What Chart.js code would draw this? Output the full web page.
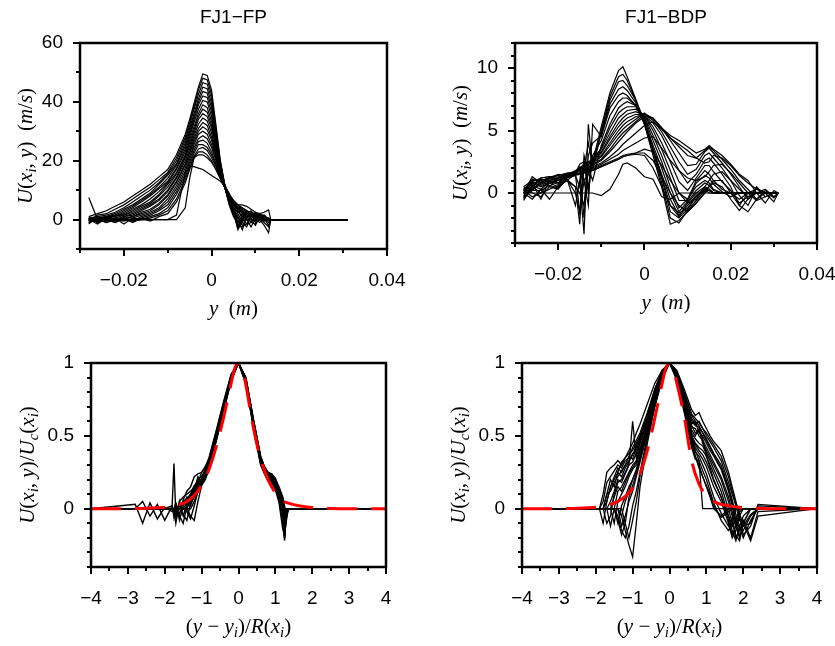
<!DOCTYPE html>
<html>
<head>
<meta charset="utf-8">
<script src="https://cdn.jsdelivr.net/npm/chart.js@4.4.1/dist/chart.umd.min.js"></script>
<style>
  html, body { margin: 0; padding: 0; background: #fff; }
  #wrap { position: relative; width: 835px; height: 646px; }
  canvas { position: absolute; }
</style>
</head>
<body>
<div id="wrap">
  <canvas id="c1" width="417" height="323" style="left:0;top:0"></canvas>
  <canvas id="c2" width="418" height="323" style="left:417px;top:0"></canvas>
  <canvas id="c3" width="417" height="323" style="left:0;top:323px"></canvas>
  <canvas id="c4" width="418" height="323" style="left:417px;top:323px"></canvas>
</div>
<script>
// ---- FJ1-FP, raw profiles U(x_i, y) in m/s ----
const fpY = [-0.028, -0.026, -0.024, -0.022, -0.020, -0.018, -0.016, -0.014, -0.012, -0.010, -0.008,
  -0.006, -0.005, -0.004, -0.003, -0.002, -0.001, 0, 0.001, 0.002, 0.003, 0.004, 0.005, 0.006,
  0.007, 0.008, 0.009, 0.010, 0.011, 0.012, 0.013, 0.0135, 0.031];
const fpU = [
  [1, 2, 3, 4.5, 6, 8, 10, 12, 14.5, 17, 22, 29, 34, 39.5, 45, 49.5, 49, 44, 32, 20, 12, 8, 5.5, 5, 5, 4.5, 3.5, 2.5, 2, 2.5, 3.3, 0, 0],
  [-0.5, 1.5, 2, 3.5, 5, 7, 9, 11, 13.5, 16, 21, 28, 33, 38.5, 44, 48, 47.5, 42.5, 31, 19.5, 12, 7.5, 5, 4, 4, 3, 2.5, 2, 1, 0.5, -2, 0, 0],
  [0.5, 1, 1.5, 2.5, 4, 6, 8, 10, 12.5, 15.5, 20, 27, 32, 37.5, 42.5, 46.5, 46, 41, 30, 19, 11.5, 7, 4, 2.5, 3, 2, 1.5, 1, 0, -2, -4.5, 0, 0],
  [0, 0.5, 1, 2, 3.5, 5, 7, 9, 12, 15, 19, 26, 31, 36, 41, 45, 44.5, 39.5, 29, 18.5, 11, 6, 2.5, 0.5, 2, 2.5, 1, 1.5, 0.5, -1, -2.5, 0, 0],
  [-1, 0.5, 1, 1.5, 3, 4.5, 6.5, 8.5, 11, 14, 18.5, 25, 30, 35, 40, 43.5, 43, 38, 28, 18, 11, 5, 1, -1, 1.5, 2.5, 1, 0.5, 1, 0, -1, 0, 0],
  [0.5, 0, 1, 1, 2.5, 4, 6, 8, 10.5, 13, 17.5, 24, 29, 34, 39, 42, 41.5, 36.5, 27, 17.5, 11, 5.5, 1.5, -2, 1, 2, 2, 0, 0.5, 1, 0, 0, 0],
  [0, -0.5, 0.5, 1, 2, 3.5, 5, 7, 9.5, 12.5, 17, 23, 28, 33, 37.5, 40.5, 40, 35, 26, 17, 11, 6, 2, -2.5, 0, 3, 1.5, -0.5, 1, 0.5, 0, 0, 0],
  [-0.5, 0.5, 0, 1.5, 1.5, 3, 4.5, 6, 8.5, 12, 16, 22, 27, 31.5, 36, 39, 38, 33.5, 25, 16.5, 11, 6.5, 2.5, -3.5, -0.5, 2.5, 2, 0.5, 0.5, 0, 0.5, 0, 0],
  [-1.5, 1, 0, 0.5, 1.5, 2.5, 4, 5.5, 8, 11, 15.5, 21.5, 26, 30.5, 35, 37.5, 36.5, 32, 24.5, 16.5, 11, 7, 3, -3, -1, 2, 3, 1, 0, 1, 0.5, 0, 0],
  [0, 0, 1, 0, 1, 2, 3.5, 5, 7, 10, 14.5, 21, 25, 29.5, 34, 36, 35, 31, 24, 16, 11, 7, 3, -2, -2.5, 1, 2.5, 1.5, 0, 0.5, 0, 0, 0],
  [0.5, -1, 0.5, -0.5, 1, 1.5, 3, 4.5, 6.5, 9.5, 14, 20, 24, 28.5, 32.5, 34.5, 33.5, 29.5, 23, 16, 11, 6.5, 3.5, 0, -3.5, 0.5, 2, 2, 0.5, -0.5, 0, 0, 0],
  [-0.5, 0.5, -1, 0, 0.5, 1, 2.5, 3.5, 5.5, 8.5, 13, 19, 23, 27.5, 31, 33, 32, 28, 22, 15.5, 11, 7, 4, 1, -2, -1.5, 1.5, 2, 1, 0, 0, 0, 0],
  [-1, 0.5, -0.5, 0.5, 0, 1, 2, 3, 5, 8, 12.5, 18.5, 22.5, 26.5, 30, 31.5, 30.5, 27, 21.5, 15.5, 11, 7.5, 5, 2, -1, -2.5, 1, 2.5, 1.5, 0, 0, 0, 0],
  [0.5, -1, 0, 0, -0.5, 0.5, 1.5, 2.5, 4, 7, 11.5, 17.5, 21.5, 25.5, 29, 30, 29, 25.5, 21, 15.5, 11, 7.5, 5.5, 3, 0.5, -1.5, -1, 1.5, 1.5, 0.5, 0, 0, 0],
  [0, -1.5, 0.5, -1, 0.5, -0.5, 1, 2, 3.5, 6, 10.5, 16.5, 20.5, 24.5, 27.5, 28.5, 27.5, 24.5, 20, 15, 11, 7.5, 5.5, 3.5, 2, 0, -2.5, 0.5, 2, 1, 0, 0, 0],
  [-0.5, 0.5, -0.5, 0, 0, 0, 0.5, 1.5, 3, 5, 9.5, 15.5, 19.5, 23.5, 26.5, 27, 26, 23, 19, 14.5, 11, 8, 6, 4, 2.5, 1, -1, -1.5, 1.5, 1.5, 0, 0, 0],
  [-1, 0, -1, 0.5, -1.5, 0.5, 0, 1, 2, 4, 8.5, 14.5, 18.5, 22.5, 25.5, 25.5, 24.5, 22, 18.5, 14.5, 11, 8, 6, 4.5, 3, 1.5, 0, -2, 1, 1.5, 0, 0, 0],
  [0, -0.5, 0.5, -0.5, 0, -0.5, 0, 0.5, 1.5, 3, 7, 13.5, 17.5, 21.5, 24, 24.5, 23.5, 21, 18, 14, 11, 8.5, 6.5, 5, 3.5, 2.5, 0.5, -1, 0, 1, 0, 0, 0],
  [0.5, -0.5, 0, -1, 0.5, -1, 0.5, -0.5, 1, 2, 6, 12.5, 17, 21, 23, 23, 22, 20, 17, 14, 11, 8.5, 6.5, 5, 4, 3, 1.5, 0, -1, 1, 0, 0, 0],
  [7.5, 0, 0, 0, 0, 0, 0, 0, 0, 0, 0, 4, 14, 21, 22, 22, 21, 19.5, 17, 14, 11, 7, 3, -1, 0.5, 0, 0, 0, 0, 0, 0, 0, 0],
  [0, 0, 0, 0, 0, 0, 0, 0, 0, 0, 1.5, 16, 18, 18, 17.5, 17, 16, 15, 14, 13, 11.5, 9, 6, 3, 1, 0, 0, 0, 0, 0, 0, 0, 0]
];

// ---- FJ1-BDP, raw profiles U(x_i, y) in m/s ----
const bdY = [-0.028, -0.026, -0.024, -0.022, -0.020, -0.018, -0.016, -0.015, -0.014, -0.013, -0.012,
  -0.010, -0.008, -0.006, -0.005, -0.004, -0.002, 0, 0.002, 0.004, 0.006, 0.008, 0.010, 0.012,
  0.014, 0.015, 0.016, 0.018, 0.020, 0.022, 0.024, 0.026, 0.028, 0.030, 0.031];
const bdU = [
  [0, -0.5, 0.3, -0.5, 0.5, 1, 0.5, -2.5, 3, 1.5, 2.5, 5.3, 8, 9.8, 10.1, 9.3, 7.5, 5.5, 3, 0.5, -2.5, -2.2, -1.5, -0.8, 0, 0.3, 0, 0, 0, 0, 0, 0, 0, 0, 0],
  [0.2, -0.3, 0, 0.3, 0.6, 1.1, 0, -1.5, 2, 4, 2.2, 5, 7.7, 9.3, 9.5, 9, 7.4, 5.6, 3.3, 0.8, -2, -2.4, -1.4, -0.6, 0.2, 0.2, 0, 0, 0, 0, 0, 0, 0, 0, 0],
  [0.3, 0, -0.3, 0.5, 0.3, 1.2, -1, 1, -3.3, 5.5, 2, 4.8, 7.4, 8.9, 9, 8.6, 7.4, 5.8, 3.5, 1.2, -1.5, -2, -1.3, -0.3, 0.3, 0, 0, 0, 0, 0, 0, 0, 0, 0, 0],
  [-0.2, 0.2, 0.2, 0.6, 0.4, 1.1, 0.5, 0, -1, 3, 4, 4.6, 7.1, 8.3, 8.5, 8.2, 7.2, 5.6, 3.5, 1.3, -1, -1.9, -1, -0.2, 0.4, 0.2, 0, 0, 0, 0, 0, 0, 0, 0, 0],
  [-0.5, 0.5, 0, 0.8, 0.5, 1, 1.5, -1.5, 1, -1, 5.5, 4.5, 6.8, 7.8, 8, 7.8, 7, 5.5, 3.5, 1.5, -0.5, -1.8, -0.8, 0, 0.5, 0.3, 0, 0, 0, 0, 0, 0, 0, 0, 0],
  [0.4, 0.6, 0.3, 0.9, 0.7, 1.2, 1.4, 0.5, 2.5, 0.5, 3, 4.2, 6.2, 7.3, 7.6, 7.6, 7, 5.8, 3.8, 2, 0, -1.5, -0.7, 0.2, 0.8, 0.6, 0.2, 0, 0, 0, 0, 0, 0, 0, 0],
  [0, 0.8, -0.5, 1, 0.8, 1.3, 1.5, 2, -2, 2, 1, 3.8, 5.5, 6.8, 7.1, 7.3, 7, 6, 4.2, 2.5, 0.5, -1.2, -0.5, 0.5, 1, 0.8, 0.3, 0, 0, 0, 0, 0, 0, 0, 0],
  [-0.4, 0.9, 0.5, 0.8, 1, 1.3, 1.6, 2.1, 1, 1.5, 2.5, 3.6, 5.2, 6.4, 6.7, 6.9, 6.9, 6.1, 4.6, 3, 1.2, -0.6, -0.6, 0.8, 1.4, 1.2, 0.7, 0.1, -0.3, 0, 0, 0, 0, 0, 0],
  [0.5, 1, 1, 0.5, 1.2, 1.3, 1.6, 2.3, 2.5, 0, 2.8, 3.5, 4.8, 6, 6.3, 6.6, 6.7, 6.2, 5, 3.5, 1.8, 0, -0.5, 1, 1.8, 1.5, 1, 0.3, 0, -0.5, 0, 0, 0, 0, 0],
  [0.2, 0.7, 1.1, 0.9, 1, 1.4, 1.6, 2, 2.3, 2.5, 2.7, 3.3, 4.5, 5.6, 6, 6.3, 6.5, 6.2, 5.3, 4, 2.5, 0.9, 0.2, 1.2, 2.2, 2.2, 1.7, 0.9, 0.2, -0.8, -0.3, 0, 0, 0, 0],
  [-0.6, 0.5, 1.2, 1.3, 0.8, 1.5, 1.7, 1.8, 2.2, 2.4, 2.6, 3.2, 4.3, 5.3, 5.7, 6, 6.3, 6.2, 5.6, 4.6, 3.2, 1.8, 0.8, 1.5, 2.6, 2.8, 2.4, 1.5, 0.5, -1, 0, 0.3, 0, 0, 0],
  [0, 1, 1, 1.2, 1.2, 1.5, 1.7, 1.9, 2.1, 2.3, 2.5, 3, 4, 5, 5.4, 5.7, 6.1, 6.3, 5.8, 4.9, 3.7, 2.5, 1.5, 1.9, 3, 3.2, 2.8, 2, 1, -0.2, -1, 0.4, 0, 0, 0],
  [0, 1.3, 0.8, 1.2, 1.5, 1.4, 1.8, 2, 2.1, 2.3, 2.4, 2.9, 3.8, 4.7, 5.1, 5.4, 5.9, 6.4, 5.9, 5.2, 4.2, 3.2, 2.2, 2.3, 3.3, 3.6, 3.2, 2.4, 1.5, 0.5, -0.5, 0.5, -0.3, 0, 0],
  [0.2, 1.1, 1, 1.2, 1.4, 1.5, 1.7, 1.9, 2, 2.2, 2.3, 2.7, 3.5, 4.4, 4.8, 5.1, 5.7, 6.3, 6, 5.2, 4.4, 3.7, 3, 2.8, 3.4, 3.7, 3.4, 2.7, 1.9, 1, 0.3, -0.5, 0.2, -0.4, 0],
  [0.3, 0.9, 1.2, 1.3, 1.4, 1.6, 1.7, 1.9, 2, 2.1, 2.2, 2.6, 3.3, 4.1, 4.5, 4.9, 5.6, 6.1, 6, 5.2, 4.6, 4.2, 3.7, 3.2, 3.5, 3.8, 3.5, 3, 2.3, 1.5, 1, 0, -0.8, 0.2, 0],
  [0, 0.5, 1, 1.2, 1.3, 1.5, 1.7, 1.8, 1.9, 2, 2.1, 2.4, 2.9, 3.5, 3.9, 4.2, 4.8, 5.4, 5.7, 5.1, 4.4, 3.9, 3.4, 2.8, 2.4, 2.5, 3, 2.8, 2.2, 1.4, 0.8, 0.3, 0, -0.7, 0],
  [-0.2, 0.3, 0.9, 1.1, 1.2, 1.4, 1.6, 1.7, 1.8, 1.9, 2, 2.3, 2.7, 3.1, 3.4, 3.6, 4, 4.4, 4.5, 3.6, 2.6, 1.8, 1.2, 1, 1.3, 1.7, 2.2, 2.3, 1.6, 0.8, 0, -0.6, -0.3, 0, 0],
  [-0.3, 0.2, 0.8, 1, 1.2, 1.4, 1.5, 1.6, 1.7, 1.8, 1.9, 2.2, 2.5, 2.8, 3, 3.1, 3.2, 3.5, 3.3, 2.2, 1, 0, -0.8, -0.5, 0.5, 1, 1.5, 1.7, 1, 0.3, -0.3, 0, 0, 0, 0],
  [0, 0.4, 0.7, 1, 1.1, 1.3, 1.5, 1.5, 1.6, 1.7, 1.8, 2.1, 2.4, 2.7, 2.9, 3, 3.2, 3.2, 2.6, 1.3, 0, -1, -1.5, -0.8, 0, 0.6, 1, 1, 0, -1, -1.5, -0.5, 0, 0, 0],
  [0, 0.5, 0.6, 0.9, 1, 1.3, 1.4, 1.5, 1.6, 1.7, 1.8, 2.1, 2.4, 2.7, 2.9, 3, 3.1, 3, 2, 0.5, -1, -1.6, -1.2, -0.3, 0.2, 0.5, 0.8, 0.5, -0.5, -1.4, -0.5, 0, 0.3, -0.3, 0],
  [0, 0, 0, 0, 0, 0, 0, 0, 0, 0, 0, -0.2, 0.3, 1.5, 2.3, 2.4, 2, 1.3, 1.1, -0.3, -0.5, 0, 0, 0, 0, 0, 0, 0, 0, 0, 0, 0, 0, 0, 0]
];

// ---- FJ1-FP, normalised U/Uc against (y - yi)/R ----
const fpEta = [-4, -2.8, -2.6, -2.4, -2.2, -2.0, -1.8, -1.75, -1.7, -1.6, -1.5, -1.4, -1.3, -1.2, -1.1,
  -1.0, -0.9, -0.8, -0.6, -0.4, -0.2, 0, 0.2, 0.4, 0.6, 0.7, 0.8, 0.9, 1.0, 1.1, 1.2, 1.25, 1.3, 1.35, 4];
const fpN = [
  [0, 0, 0.05, -0.05, 0.03, -0.08, 0.02, 0.31, -0.05, 0.05, 0.08, 0.1, 0.12, 0.15, 0.2, 0.22, 0.27, 0.33, 0.52, 0.72, 0.91, 1, 0.87, 0.58, 0.32, 0.26, 0.22, 0.2, 0.18, 0.12, 0.05, -0.05, 0, 0, 0],
  [0, 0.03, -0.1, 0.04, -0.07, 0.01, -0.02, 0, -0.08, 0.02, 0.04, 0.06, 0.08, 0.14, 0.18, 0.2, 0.25, 0.31, 0.5, 0.7, 0.9, 1, 0.88, 0.6, 0.34, 0.27, 0.23, 0.21, 0.17, 0.1, 0.02, -0.15, 0, 0, 0],
  [0, 0, 0, 0, 0, 0, 0.02, -0.06, 0.03, -0.08, 0.02, 0.08, 0.05, 0.12, 0.22, 0.18, 0.24, 0.32, 0.49, 0.69, 0.9, 1, 0.86, 0.57, 0.31, 0.25, 0.2, 0.19, 0.15, 0.08, 0.03, -0.2, -0.05, 0, 0],
  [0, 0, 0, 0, 0, 0, 0, 0, -0.1, 0.05, -0.05, 0.03, 0.1, 0.16, 0.18, 0.25, 0.28, 0.34, 0.53, 0.73, 0.92, 1, 0.89, 0.61, 0.35, 0.28, 0.24, 0.22, 0.19, 0.13, 0.06, -0.08, 0, 0, 0],
  [0, 0, 0, 0, 0, 0, 0, 0, 0, -0.05, -0.1, 0.02, 0.07, 0.1, 0.15, 0.19, 0.23, 0.3, 0.49, 0.69, 0.89, 1, 0.87, 0.59, 0.33, 0.26, 0.21, 0.18, 0.14, 0.06, -0.1, -0.22, 0, 0, 0],
  [0, 0, 0, 0, 0, 0, 0, 0, 0, 0, -0.04, -0.08, 0.04, 0.08, 0.13, 0.17, 0.22, 0.29, 0.48, 0.68, 0.89, 1, 0.88, 0.6, 0.33, 0.27, 0.22, 0.2, 0.16, 0.11, 0, -0.12, 0, 0, 0],
  [0, 0, 0, 0, 0, 0, 0, 0, 0, 0, 0, -0.02, -0.07, 0.02, 0.12, 0.18, 0.21, 0.28, 0.47, 0.68, 0.88, 1, 0.9, 0.62, 0.36, 0.29, 0.25, 0.23, 0.2, 0.15, 0.08, 0.02, -0.06, 0, 0],
  [0, 0, 0, 0, 0, 0, 0, 0, 0, 0, 0, 0, -0.05, -0.08, 0.05, 0.16, 0.2, 0.27, 0.47, 0.67, 0.88, 1, 0.86, 0.56, 0.3, 0.24, 0.19, 0.17, 0.13, 0.04, -0.14, -0.18, 0, 0, 0],
  [0, 0, 0, 0, 0, 0, 0, 0, 0, 0, 0.03, 0.05, 0.09, 0.13, 0.17, 0.21, 0.26, 0.32, 0.51, 0.71, 0.91, 1, 0.89, 0.6, 0.34, 0.27, 0.23, 0.21, 0.18, 0.12, 0.04, -0.1, 0, 0, 0],
  [0, 0, 0, 0, 0, 0, 0, 0, 0, 0.02, 0.05, 0.07, 0.1, 0.13, 0.19, 0.2, 0.25, 0.31, 0.5, 0.71, 0.9, 1, 0.87, 0.58, 0.32, 0.25, 0.21, 0.19, 0.16, 0.09, -0.05, -0.2, 0, 0, 0],
  [0, 0, 0, 0, 0, 0, 0, 0, 0, 0, 0, 0, 0.06, 0.11, 0.16, 0.19, 0.24, 0.3, 0.5, 0.7, 0.9, 1, 0.88, 0.59, 0.33, 0.26, 0.22, 0.2, 0.17, 0.12, 0.05, 0, -0.04, 0, 0],
  [0, 0, 0, 0, 0, 0, 0, 0, 0, 0, 0, 0.04, 0.02, 0.09, 0.14, 0.2, 0.23, 0.29, 0.48, 0.68, 0.89, 1, 0.87, 0.58, 0.31, 0.25, 0.2, 0.18, 0.16, 0.1, 0.02, -0.16, -0.08, 0, 0],
  [0, 0, 0, 0, 0, 0, 0, 0, 0, 0, 0, 0, 0, 0.05, 0.12, 0.17, 0.22, 0.29, 0.49, 0.7, 0.9, 1, 0.89, 0.61, 0.35, 0.28, 0.24, 0.22, 0.2, 0.14, 0.07, -0.03, 0, 0, 0],
  [0, 0, 0, 0, 0, 0, 0, 0, 0.04, -0.04, 0.06, 0.12, 0.15, 0.22, 0.24, 0.25, 0.29, 0.35, 0.54, 0.74, 0.92, 1, 0.9, 0.62, 0.36, 0.29, 0.25, 0.24, 0.21, 0.14, 0.07, -0.06, 0, 0, 0]
];

// ---- FJ1-BDP, normalised ----
const bdEta = [-4, -1.9, -1.8, -1.7, -1.6, -1.5, -1.4, -1.3, -1.2, -1.1, -1.0, -0.9, -0.8, -0.6, -0.4,
  -0.2, 0, 0.2, 0.4, 0.6, 0.7, 0.8, 0.9, 1.0, 1.1, 1.2, 1.4, 1.6, 1.7, 1.8, 1.9, 2.0, 2.2, 2.4, 4];
const bdN = [
  [0, 0, 0.1, 0.25, 0.28, 0.3, 0.33, 0.3, 0.35, 0.38, 0.4, 0.45, 0.5, 0.64, 0.8, 0.94, 1, 0.93, 0.76, 0.62, 0.58, 0.6, 0.55, 0.5, 0.46, 0.42, 0.33, 0.18, 0.1, 0.02, -0.08, -0.12, -0.1, 0.02, 0],
  [0, 0, -0.1, 0.05, 0.15, 0.22, 0.28, 0.25, 0.3, 0.36, 0.34, 0.42, 0.48, 0.62, 0.8, 0.93, 1, 0.92, 0.75, 0.58, 0.6, 0.52, 0.5, 0.45, 0.4, 0.36, 0.27, 0.12, 0.02, -0.1, -0.18, -0.15, -0.05, 0, 0],
  [0, 0, 0, -0.1, -0.05, 0.1, 0.18, 0.2, 0.25, 0.3, 0.6, 0.35, 0.45, 0.6, 0.78, 0.92, 1, 0.93, 0.76, 0.57, 0.52, 0.54, 0.45, 0.4, 0.35, 0.3, 0.2, 0.05, -0.05, -0.2, -0.15, -0.08, -0.2, -0.02, 0],
  [0, 0, 0, 0, -0.12, 0, 0.12, 0.15, 0.2, 0.25, 0.3, 0.33, 0.4, 0.58, 0.76, 0.92, 1, 0.91, 0.72, 0.5, 0.45, 0.42, 0.4, 0.36, 0.3, 0.24, 0.12, -0.05, -0.15, -0.22, -0.12, -0.05, 0, 0, 0],
  [0, 0, 0, 0, 0, -0.1, 0.05, 0.1, 0.15, 0.22, 0.27, 0.3, 0.38, 0.56, 0.75, 0.91, 1, 0.9, 0.7, 0.48, 0.42, 0.38, 0.34, 0.29, 0.22, 0.15, 0.05, -0.1, -0.2, -0.15, -0.05, 0, 0, 0, 0],
  [0, 0, 0, 0, 0, 0, -0.1, 0.02, 0.08, 0.15, 0.2, 0.27, 0.35, 0.55, 0.74, 0.9, 1, 0.92, 0.74, 0.54, 0.5, 0.55, 0.48, 0.36, 0.28, 0.2, 0.08, -0.05, -0.12, -0.08, 0, 0, 0, 0, 0],
  [0, 0, 0, 0, 0, 0, 0, -0.12, -0.05, 0.05, 0.12, 0.22, 0.32, 0.52, 0.72, 0.9, 1, 0.91, 0.72, 0.5, 0.4, 0.33, 0.26, 0.2, 0.12, 0.04, -0.08, -0.15, -0.1, 0, 0, 0, 0, 0, 0],
  [0, 0, 0, 0, 0, 0, 0, -0.05, -0.15, -0.25, -0.33, -0.1, 0.15, 0.45, 0.7, 0.89, 1, 0.9, 0.7, 0.46, 0.36, 0.3, 0.22, 0.15, 0.08, 0, -0.05, 0, 0, 0, 0, 0, 0, 0, 0],
  [0, 0, 0, 0, 0, 0, -0.05, -0.15, -0.2, -0.12, 0.02, 0.12, 0.25, 0.5, 0.71, 0.9, 1, 0.88, 0.66, 0.42, 0.34, 0.33, 0, 0, 0, 0, 0, 0, 0, 0, 0, 0, 0, 0, 0],
  [0, 0, 0, 0.05, 0.15, 0.2, 0.25, 0.32, 0.35, 0.4, 0.45, 0.52, 0.58, 0.72, 0.86, 0.95, 1, 0.95, 0.82, 0.68, 0.64, 0.66, 0.6, 0.55, 0.5, 0.46, 0.4, 0.25, 0.15, 0.05, -0.05, -0.18, -0.12, 0.03, 0],
  [0, 0, 0.05, 0.18, 0.22, 0.26, 0.3, 0.28, 0.33, 0.35, 0.42, 0.47, 0.52, 0.66, 0.82, 0.95, 1, 0.94, 0.79, 0.64, 0.6, 0.57, 0.52, 0.48, 0.43, 0.38, 0.3, 0.15, 0.06, -0.04, -0.12, -0.2, -0.08, 0, 0],
  [0, 0, 0, 0.1, 0.2, 0.15, 0.25, 0.22, 0.28, 0.32, 0.38, 0.4, 0.47, 0.6, 0.79, 0.93, 1, 0.92, 0.74, 0.56, 0.55, 0.5, 0.47, 0.42, 0.37, 0.32, 0.22, 0.08, -0.02, -0.12, -0.2, -0.1, 0, 0, 0],
  [0, 0, 0, 0, 0, 0.08, 0.15, 0.12, 0.18, 0.24, 0.28, 0.32, 0.42, 0.57, 0.76, 0.92, 1, 0.92, 0.73, 0.52, 0.48, 0.45, 0.43, 0.38, 0.33, 0.27, 0.16, 0, -0.1, -0.18, -0.22, -0.1, 0, 0, 0],
  [0, 0, 0, 0, 0, 0, 0, -0.05, 0.05, 0.12, 0.2, 0.26, 0.36, 0.54, 0.74, 0.91, 1, 0.91, 0.71, 0.49, 0.44, 0.4, 0.37, 0.32, 0.26, 0.19, 0.08, -0.08, -0.18, -0.12, -0.02, 0, 0, 0, 0],
  [0, 0, 0, 0, 0, 0, -0.08, -0.18, -0.1, 0.08, 0.16, 0.24, 0.34, 0.53, 0.73, 0.9, 1, 0.9, 0.71, 0.48, 0.39, 0.36, 0.3, 0.24, 0.16, 0.08, -0.03, -0.12, -0.06, 0, 0, 0, 0, 0, 0],
  [0, 0, 0, 0, 0, 0, 0, 0, -0.1, -0.2, -0.08, 0.05, 0.22, 0.48, 0.7, 0.89, 1, 0.89, 0.68, 0.44, 0.36, 0.28, 0.22, 0.16, 0.1, 0.02, -0.06, -0.02, 0, 0, 0, 0, 0, 0, 0],
  [0, 0, 0, 0.1, 0.12, 0.18, 0.22, 0.26, 0.3, 0.33, 0.37, 0.43, 0.49, 0.64, 0.82, 0.94, 1, 0.94, 0.8, 0.65, 0.62, 0.59, 0.55, 0.52, 0.48, 0.44, 0.36, 0.22, 0.12, 0.04, -0.04, -0.1, -0.22, -0.05, 0],
  [0, 0, 0, 0, 0.05, 0.12, 0.2, 0.18, 0.24, 0.3, 0.32, 0.38, 0.45, 0.6, 0.78, 0.92, 1, 0.93, 0.77, 0.6, 0.57, 0.56, 0.52, 0.47, 0.42, 0.37, 0.28, 0.14, 0.04, -0.08, -0.14, -0.12, -0.04, 0, 0]
];

// red dashed fitted profiles
const fitEta = [-4, -3.5, -3, -2.5, -2, -1.8, -1.6, -1.4, -1.2, -1.0, -0.8, -0.6, -0.4, -0.2, -0.1, 0,
  0.1, 0.2, 0.4, 0.6, 0.8, 1.0, 1.2, 1.4, 1.6, 1.8, 2.0, 2.5, 3, 3.5, 4];
const fitFP = [0, 0, 0.001, 0.003, 0.01, 0.017, 0.028, 0.05, 0.09, 0.16, 0.27, 0.43, 0.63, 0.86, 0.965, 1,
  0.96, 0.85, 0.56, 0.34, 0.2, 0.11, 0.055, 0.035, 0.022, 0.014, 0.008, 0.002, 0, 0, 0];
const fitBDP = [0, 0, 0.001, 0.003, 0.01, 0.017, 0.03, 0.05, 0.085, 0.14, 0.24, 0.4, 0.62, 0.86, 0.965, 1,
  0.96, 0.86, 0.63, 0.33, 0.17, 0.09, 0.05, 0.03, 0.02, 0.012, 0.007, 0.002, 0, 0, 0];

const MINUS = '\u2212';
const tickFont = { family: '"Liberation Sans", Arial, sans-serif', size: 19 };
const mathFamily = '"Liberation Serif", "DejaVu Serif", serif';

function blackSets(xs, curves, width) {
  return curves.map(u => ({
    data: xs.map((x, i) => ({ x: x, y: u[i] })),
    borderColor: '#000', borderWidth: width, pointRadius: 0, tension: 0, fill: false
  }));
}
function redSet(xs, u) {
  return {
    data: xs.map((x, i) => ({ x: x, y: u[i] })),
    borderColor: '#ff0000', borderWidth: 3, borderDash: [30, 14], pointRadius: 0,
    cubicInterpolationMode: 'monotone', fill: false
  };
}

function drawMath(ctx, parts, cx, cy, rotate) {
  const size = 21;
  const fonts = {
    i: 'italic ' + size + 'px ' + mathFamily,
    r: size + 'px ' + mathFamily,
    s: 'italic ' + Math.round(size * 0.7) + 'px ' + mathFamily
  };
  let total = 0;
  const widths = parts.map(p => { ctx.font = fonts[p[1]]; const w = ctx.measureText(p[0]).width; total += w; return w; });
  ctx.save();
  ctx.translate(cx, cy);
  if (rotate) ctx.rotate(-Math.PI / 2);
  ctx.fillStyle = '#000';
  ctx.textBaseline = 'alphabetic';
  ctx.textAlign = 'left';
  let x = -total / 2;
  parts.forEach((p, k) => {
    ctx.font = fonts[p[1]];
    ctx.fillText(p[0], x, p[1] === 's' ? 11 : 7);
    x += widths[k];
  });
  ctx.restore();
}

function decoPlugin(cfg) {
  return {
    id: 'deco',
    afterDraw(chart) {
      const ctx = chart.ctx, a = chart.chartArea;
      const sx = chart.scales.x, sy = chart.scales.y;
      ctx.save();
      ctx.setLineDash([]);
      ctx.strokeStyle = '#000';
      ctx.lineWidth = 2;
      ctx.beginPath();
      sx.ticks.forEach(t => {
        const p = Math.round(sx.getPixelForValue(t.value));
        const len = t.label ? 7 : 4;
        ctx.moveTo(p, a.bottom); ctx.lineTo(p, a.bottom + len);
      });
      sy.ticks.forEach(t => {
        const p = Math.round(sy.getPixelForValue(t.value));
        const len = t.label ? 7 : 4;
        ctx.moveTo(a.left, p); ctx.lineTo(a.left - len, p);
      });
      ctx.stroke();
      ctx.beginPath();
      ctx.rect(a.left, a.top, a.right - a.left, a.bottom - a.top);
      ctx.lineWidth = 2.5;
      ctx.stroke();
      if (cfg.title) {
        ctx.fillStyle = '#000';
        ctx.font = '19px "Liberation Sans", Arial, sans-serif';
        ctx.textAlign = 'center';
        ctx.textBaseline = 'middle';
        ctx.fillText(cfg.title, (a.left + a.right) / 2, a.top - 25);
      }
      drawMath(ctx, cfg.xTitle, (a.left + a.right) / 2, a.bottom + 59, false);
      drawMath(ctx, cfg.yTitle, a.left - cfg.yOff, (a.top + a.bottom) / 2, true);
      ctx.restore();
    }
  };
}

function makeChart(id, box, datasets, xs, ys, deco) {
  const cv = document.getElementById(id);
  const W = cv.width, H = cv.height;
  const axisBase = {
    type: 'linear',
    grid: { display: false, drawTicks: false },
    border: { display: false }
  };
  return new Chart(cv.getContext('2d'), {
    type: 'line',
    data: { datasets: datasets },
    options: {
      responsive: false,
      animation: false,
      events: [],
      layout: { padding: { left: 0, top: box.top, right: W - box.right, bottom: 0 } },
      plugins: { legend: { display: false }, tooltip: { enabled: false } },
      scales: {
        x: Object.assign({}, axisBase, {
          min: xs.min, max: xs.max,
          afterFit(s) { s.height = H - box.bottom; s.paddingLeft = 0; s.paddingRight = 0; },
          ticks: { stepSize: xs.step, autoSkip: false, maxRotation: 0, minRotation: 0, padding: 20,
            color: '#000', font: tickFont, callback: v => xs.label(v) }
        }),
        y: Object.assign({}, axisBase, {
          min: ys.min, max: ys.max,
          afterFit(s) { s.width = box.left; s.paddingTop = 0; s.paddingBottom = 0; },
          ticks: { stepSize: ys.step, autoSkip: false, padding: 17,
            color: '#000', font: tickFont, callback: v => ys.label(v) }
        })
      }
    },
    plugins: [decoPlugin(deco)]
  });
}

// tick label rules
const rawX = { min: -0.03, max: 0.04, step: 0.01, label: v => {
  const k = Math.round(v * 100);
  if (k % 2 !== 0) return '';
  if (k === 0) return '0';
  return (k < 0 ? MINUS : '') + (Math.abs(k) / 100).toFixed(2);
} };
const normX = { min: -4, max: 4, step: 0.5, label: v => {
  const k = Math.round(v * 2);
  if (k % 2 !== 0) return '';
  return (k < 0 ? MINUS : '') + Math.abs(k / 2);
} };
const fpAxisY = { min: -10, max: 60, step: 10, label: v => (v >= 0 && Math.round(v) % 20 === 0) ? String(Math.round(v)) : '' };
const bdAxisY = { min: -4, max: 12, step: 1, label: v => (v >= 0 && Math.round(v) % 5 === 0) ? String(Math.round(v)) : '' };
const normY = { min: -0.4, max: 1, step: 0.1, label: v => {
  const k = Math.round(v * 10);
  return (k >= 0 && k % 5 === 0) ? String(k / 10) : '';
} };

const rawYTitle = [['U', 'i'], ['(', 'r'], ['x', 'i'], ['i', 's'], [', ', 'r'], ['y', 'i'], [')', 'r'],
  ['  (', 'r'], ['m', 'i'], ['/', 'r'], ['s', 'i'], [')', 'r']];
const rawXTitle = [['y', 'i'], ['  (', 'r'], ['m', 'i'], [')', 'r']];
const normYTitle = [['U', 'i'], ['(', 'r'], ['x', 'i'], ['i', 's'], [', ', 'r'], ['y', 'i'], [')', 'r'], ['/', 'r'],
  ['U', 'i'], ['c', 's'], ['(', 'r'], ['x', 'i'], ['i', 's'], [')', 'r']];
const normXTitle = [['(', 'r'], ['y', 'i'], [' ' + MINUS + ' ', 'r'], ['y', 'i'], ['i', 's'], [')', 'r'], ['/', 'r'],
  ['R', 'i'], ['(', 'r'], ['x', 'i'], ['i', 's'], [')', 'r']];

makeChart('c1', { left: 80, top: 43, right: 387, bottom: 249 }, blackSets(fpY, fpU, 1.2), rawX, fpAxisY,
  { title: 'FJ1' + MINUS + 'FP', xTitle: rawXTitle, yTitle: rawYTitle, yOff: 55 });
makeChart('c2', { left: 98, top: 43, right: 400, bottom: 243 }, blackSets(bdY, bdU, 1.2), rawX, bdAxisY,
  { title: 'FJ1' + MINUS + 'BDP', xTitle: rawXTitle, yTitle: rawYTitle, yOff: 55 });
makeChart('c3', { left: 91, top: 40, right: 386, bottom: 244 }, [redSet(fitEta, fitFP)].concat(blackSets(fpEta, fpN, 1.4)), normX, normY,
  { xTitle: normXTitle, yTitle: normYTitle, yOff: 64 });
makeChart('c4', { left: 105, top: 40, right: 400, bottom: 244 }, [redSet(fitEta, fitBDP)].concat(blackSets(bdEta, bdN, 1.3)), normX, normY,
  { xTitle: normXTitle, yTitle: normYTitle, yOff: 64 });
</script>
</body>
</html>
